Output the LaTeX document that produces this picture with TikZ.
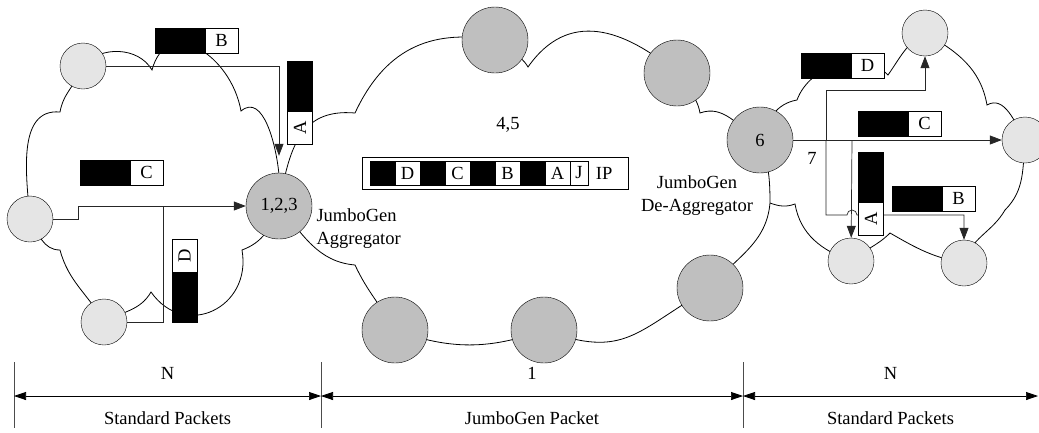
\documentclass[tikz,border=0pt]{standalone}
\usepackage{fontspec}
\setmainfont{Liberation Serif}
\usetikzlibrary{arrows.meta,positioning,fit}

\tikzset{
  host/.style={circle, draw, fill=gray!20, minimum size=46pt, inner sep=0pt},
  router/.style={circle, draw, fill=gray!50, minimum size=66pt, inner sep=0pt},
  payload/.style={draw, fill=black, minimum width=50pt, minimum height=25pt, inner sep=0pt, outer sep=0pt},
  header/.style={draw, fill=white, minimum width=33pt, minimum height=25pt, inner sep=0pt, outer sep=0pt},
  vpayload/.style={payload, minimum width=25pt, minimum height=50pt},
  vheader/.style={header, minimum width=25pt, minimum height=33pt},
  jblk/.style={payload, minimum width=25pt, minimum height=24pt},
  jhdr/.style={header, minimum width=25pt, minimum height=24pt},
  cloudline/.style={line width=0.8pt},
  flow/.style={draw=black!85, line width=0.7pt, -{Triangle[length=12pt,width=9pt]}},
  dim/.style={line width=0.7pt, {Triangle[length=12pt,width=8pt]}-{Triangle[length=12pt,width=8pt]}}
}

\begin{document}
\begin{tikzpicture}[x=1pt, y=1pt, font=\fontsize{18.5}{23}\selectfont]
\useasboundingbox (0,0) rectangle (1039,-432);

  \draw[cloudline] (83,-66) to[out=50,in=120] (152,-70)
    to[out=75,in=100,looseness=1.5] (241,-111)
    to[out=40,in=95] (279,-175);
  \draw[cloudline] (279,-206) to[out=-110,in=20] (242,-250)
    to[out=-80,in=-55,looseness=1.5] (151,-292)
    to[out=-120,in=30] (104,-322)
    to[out=120,in=-75] (60,-250)
    to[out=180,in=-60] (30,-219)
    to[out=95,in=175] (60,-112)
    to[out=80,in=-110] (83,-66);

  \draw[cloudline] (279,-206) to[out=80,in=175,looseness=1.2] (355,-113)
    to[out=65,in=170,looseness=1.1] (495,-40)
    to[out=-45,in=120] (528,-67)
    to[out=55,in=140,looseness=1.2] (677,-73)
    to[out=-60,in=100] (700,-113)
    to[out=20,in=150] (760,-140)
    to[out=-70,in=90] (770,-203)
    to[out=-95,in=50] (710,-288)
    to[out=-150,in=-20,looseness=1.3] (544,-330)
    to[out=-160,in=-20] (395,-330)
    to[out=120,in=-65] (355,-265)
    to[out=175,in=-50] (279,-206);

  \draw[cloudline] (760,-140) to[out=70,in=190] (797,-100)
    to[out=70,in=135] (888,-75)
    to[out=55,in=-150] (925,-33)
    to[out=-30,in=100] (987,-105)
    to[out=30,in=120] (1025,-140)
    to[out=-95,in=45] (1005,-210)
    to[out=-120,in=75] (964,-263)
    to[out=170,in=-30] (890,-233)
    to[out=-135,in=40] (851,-261)
    to[out=160,in=-80] (795,-204)
    to[out=-160,in=-20] (770,-203);

  \node[host] (tl) at (83,-66) {};
  \node[host] (lft) at (30,-219) {};
  \node[host] (bot) at (104,-322) {};
  \node[router] (agg) at (279,-206) {1,2,3};
  \node[router] (r1) at (495,-40) {};
  \node[router] (r2) at (677,-73) {};
  \node[router] (six) at (760,-140) {6};
  \node[router] (r3) at (710,-288) {};
  \node[router] (r4) at (544,-330) {};
  \node[router] (r5) at (395,-330) {};
  \node[host] (top) at (925,-33) {};
  \node[host] (rgt) at (1025,-140) {};
  \node[host] (blc) at (851,-261) {};
  \node[host] (brc) at (964,-263) {};

  \coordinate (jn) at (163,-206);
  \coordinate (lj) at (78,-219);
  \draw[flow, shorten >=17pt] (tl) -| (agg);
  \draw[flow] (lft) -- (lj) |- (agg);
  \draw[draw=black!85, line width=0.7pt] (bot) -| (jn);

  \coordinate (s1) at (852,-140);
  \coordinate (s2) at (826,-140);
  \coordinate (d1) at (826,-90);
  \coordinate (b1) at (826,-215);
  \draw[flow] (six) -- (rgt);
  \draw[flow] (s1) -- (blc);
  \draw[flow] (s2) -- (d1) -| (top);
  \draw[flow] (s2) -- (b1) -- (847,-215) arc[start angle=180, end angle=0, radius=5] -| (brc);

  \node[payload] (pB) at (180,-40.5) {};
  \node[header, right=0pt of pB] (hB) {B};
  \node[vpayload] (pA) at (300,-86) {};
  \node[vheader, below=0pt of pA] (hA) {\rotatebox{90}{A}};
  \node[payload] (pC) at (105,-172.5) {};
  \node[header, right=0pt of pC] (hC) {C};
  \node[vheader] (hD) at (184.5,-256) {\rotatebox{90}{D}};
  \node[vpayload, below=0pt of hD] (pD) {};

  \node[payload] (qD) at (826,-65.5) {};
  \node[header, right=0pt of qD] (kD) {D};
  \node[payload] (qC) at (883,-123.5) {};
  \node[header, right=0pt of qC] (kC) {C};
  \node[vpayload] (qA) at (871,-177) {};
  \node[vheader, below=0pt of qA] (kA) {\rotatebox{90}{A}};
  \node[payload] (qB) at (917,-198.5) {};
  \node[header, right=0pt of qB] (kB) {B};

  \coordinate (jl) at (370,-173);
  \foreach \l [count=\i] in {D,C,B,A} {
    \node[jblk, right=0pt of jl] (jb\i) {};
    \node[jhdr, right=0pt of jb\i] (jl) {\l};
  }
  \node[jhdr, minimum width=18pt, right=0pt of jl] (jJ) {J};
  \node[minimum width=32pt, inner sep=0pt, right=0pt of jJ] (jIP) {IP};
  \node[draw, fit=(jb1)(jIP), inner xsep=8pt, inner ysep=4pt] (jumbo) {};

  \node (hops) at (508,-125) {4,5};
  \node (hop7) at (812,-158) {7};
  \node[align=left, anchor=west] (aggl) at (313,-228.5) {JumboGen\\Aggregator};
  \node[align=center] (dagl) at (697,-196) {JumboGen\\De-Aggregator};

  \foreach \x in {14,321,743} \draw[black!70, line width=0.6pt] (\x,-362) -- (\x,-428);
  \coordinate (t0) at (14,-396);
  \coordinate (t1) at (321,-396);
  \coordinate (t2) at (743,-396);
  \coordinate (t3) at (1038,-396);
  \draw[dim] (t0) -- (t1) node[midway, yshift=23pt] {N} node[midway, yshift=-22pt] {Standard Packets};
  \draw[dim] (t1) -- (t2) node[midway, yshift=23pt] {1} node[midway, yshift=-22pt] {JumboGen Packet};
  \draw[dim] (t2) -- (t3) node[midway, yshift=23pt] {N} node[midway, yshift=-22pt] {Standard Packets};
\end{tikzpicture}
\end{document}
